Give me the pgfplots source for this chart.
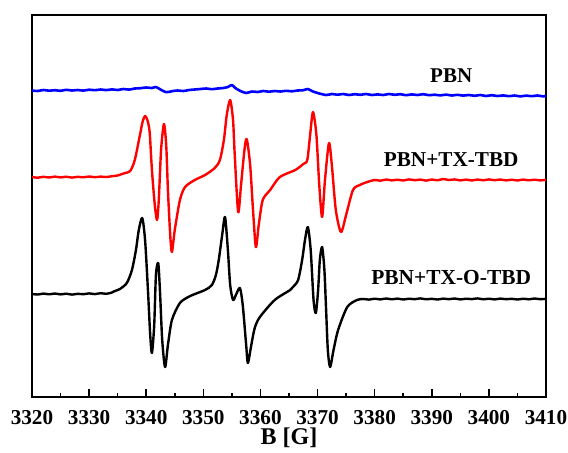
\documentclass[border=0pt]{standalone}
\usepackage{fontspec}
\setmainfont{Liberation Serif}
\usepackage{pgfplots}
\pgfplotsset{compat=1.18}

% EPR spectra, intensity in arbitrary units (offset per trace)
\pgfplotstableread{
x y
3320 309.5
3321 309.0
3322 310.0
3323 309.3
3324 309.8
3325 309.2
3326 310.2
3327 309.5
3328 310.0
3329 309.4
3330 310.3
3331 309.8
3332 310.5
3333 309.9
3334 310.6
3335 310.0
3336 311.0
3337 310.4
3338 311.5
3339 311.8
3340 312.5
3341 312.0
3341.7 313.0
3342.5 310.5
3343.5 307.8
3344.5 308.8
3345.5 309.5
3346.5 309.0
3347.5 310.0
3348.5 310.5
3349.5 311.0
3350.5 311.5
3351.5 310.8
3352.5 311.5
3353.5 312.0
3354.3 313.0
3355 315.0
3355.6 312.0
3356.5 309.0
3357.5 307.0
3358.5 308.5
3359.5 308.0
3360.5 309.0
3361.5 308.3
3362.5 309.0
3363.5 308.5
3364.5 309.2
3365.5 308.7
3366.5 309.5
3367.5 309.8
3368.3 311.0
3369 309.0
3370 307.0
3371.5 305.0
3372.5 306.0
3373.5 305.3
3374.5 306.0
3375.5 305.0
3376.5 305.8
3377.5 305.2
3378.5 306.0
3379.5 305.0
3380.5 305.6
3381.5 305.0
3382.5 306.0
3383.5 305.2
3384.5 305.8
3385.5 304.8
3386.5 305.6
3387.5 305.0
3388.5 305.8
3389.5 304.8
3390.5 305.3
3391.5 304.6
3392.5 305.4
3393.5 304.5
3394.5 305.2
3395.5 304.4
3396.5 305.0
3397.5 304.2
3398.5 305.0
3399.5 304.0
3400.5 304.8
3401.5 304.0
3402.5 304.6
3403.5 303.8
3404.5 304.5
3405.5 303.6
3406.5 304.4
3407.5 303.8
3408.5 304.5
3409.5 303.6
3410 304.2
}\pbn

\pgfplotstableread{
x y
3320 223
3321 222.3
3322 223.2
3323 222.5
3324 223.4
3325 222.6
3326 223.3
3327 222.4
3328 223.2
3329 222.7
3330 223.5
3331 222.8
3332 223.4
3333 223.0
3334 223.8
3335 224.5
3335.5 225.5
3336.3 227
3337.2 229
3338.0 240
3338.9 265
3339.4 279
3339.8 284
3340.2 280
3340.6 268
3341.0 230
3341.5 195
3341.9 180
3342.2 200
3342.6 250
3343.1 276
3343.5 255
3343.8 210
3344.2 165
3344.5 148
3345.0 170
3345.9 200
3346.8 213
3348.5 220
3350.3 225
3352.0 232
3352.9 240
3353.6 260
3354.1 285
3354.7 300
3355.2 280
3355.5 245
3356.1 188
3356.6 215
3357.2 250
3357.6 261
3358.2 235
3358.7 190
3359.2 153
3359.7 175
3360.4 200
3361.7 210
3363.4 223
3366.1 230
3367.5 236
3368.2 240
3368.7 265
3369.2 288
3369.8 265
3370.3 215
3370.8 183
3371.3 220
3372.0 257
3372.5 235
3373.2 190
3374.1 168
3375.0 185
3376.2 210
3377.4 215
3378.7 218
3380 220
3381 219.3
3382 220.5
3383 219.6
3384 220.3
3385 219.5
3386 220.6
3387 219.8
3388 220.4
3389 219.4
3390 220.5
3391 219.7
3392 221
3393 220
3394 220.6
3395 219.6
3396 220.4
3397 219.5
3398 220.5
3399 219.7
3400 220.6
3401 219.8
3402 220.5
3403 219.6
3404 220.3
3405 219.5
3406 220.4
3407 219.7
3408 220.3
3409 219.6
3410 220.2
}\pbntx

\pgfplotstableread{
x y
3320 106
3321 105.5
3322 106.4
3323 105.7
3324 106.5
3325 105.6
3326 106.3
3327 105.4
3328 106.2
3329 105.8
3330 106.6
3331 105.9
3332 106.8
3333 106.2
3334 107.5
3334.5 109
3335.4 111
3336.6 117
3337.5 130
3338.2 150
3338.7 170
3339.3 182
3339.8 160
3340.3 110
3340.7 65
3341.0 47
3341.4 75
3341.7 125
3342.1 137
3342.4 110
3342.8 60
3343.3 33
3343.8 55
3344.5 80
3345.9 97
3347.7 104
3350.3 110
3351.5 115
3352.2 125
3352.7 140
3353.3 165
3353.8 183
3354.3 150
3354.7 115
3355.2 100
3355.7 105
3356.4 112
3356.9 95
3357.5 55
3357.8 37
3358.4 55
3359.0 72
3359.9 83
3362.5 100
3365.2 110
3365.7 113
3366.6 120
3367.3 140
3367.8 160
3368.3 173
3368.8 150
3369.3 100
3369.7 87
3370.1 110
3370.4 140
3370.8 153
3371.2 130
3371.5 90
3371.8 50
3372.2 33
3372.8 50
3373.6 70
3375.2 93
3376.9 100
3378 101
3379 100.4
3380 101.3
3381 100.6
3382 101.5
3383 100.7
3384 101.4
3385 100.5
3386 101.3
3387 100.8
3388 101.6
3389 100.7
3390 101.2
3391 100.5
3392 101.4
3393 100.8
3394 101.5
3395 100.6
3396 101.3
3397 100.9
3398 101.6
3399 100.7
3400 101.3
3401 100.6
3402 101.4
3403 100.8
3404 101.2
3405 100.5
3406 101.3
3407 100.7
3408 101.5
3409 100.8
3410 101.2
}\pbntxo

\begin{document}
\begin{tikzpicture}
\path[use as bounding box] (-16pt,-27.5pt) rectangle (268pt,198.5pt);
\begin{axis}[
    at={(0,0)}, anchor=south west,
    width=257pt, height=191pt, scale only axis,
    xmin=3320, xmax=3410, ymin=3, ymax=385,
    xtick={3320,3330,...,3410}, minor x tick num=1,
    ytick=\empty,
    xtick pos=left, tick align=inside,
    major tick length=4pt, minor tick length=2pt,
    axis line style={line width=1pt},
    every tick/.style={black, line width=0.8pt},
    /pgf/number format/assume math mode=true,
    /pgf/number format/1000 sep={},
    xticklabel style={font=\fontsize{10.6}{12}\selectfont\bfseries, anchor=center, inner sep=0.5pt, yshift=-10.5pt},
    xlabel={B [G]},
    xlabel style={font=\fontsize{12}{14}\selectfont\bfseries, at={(rel axis cs:0.5,0)}, anchor=center, inner sep=0pt, yshift=-20.5pt},
    every axis plot/.append style={smooth, tension=0.45, line join=round},
]
  \addplot[blue, line width=1.3pt] table {\pbn};
  \addplot[red, line width=1.2pt] table {\pbntx};
  \addplot[black, line width=1.2pt] table {\pbntxo};
  \node[font=\fontsize{10.5}{12}\selectfont\bfseries] at (axis cs:3393.4,324) {PBN};
  \node[font=\fontsize{10.6}{12}\selectfont\bfseries] at (axis cs:3393.4,240) {PBN+TX-TBD};
  \node[font=\fontsize{10.7}{12}\selectfont\bfseries] at (axis cs:3393.4,122) {PBN+TX-O-TBD};
\end{axis}
\end{tikzpicture}
\end{document}
